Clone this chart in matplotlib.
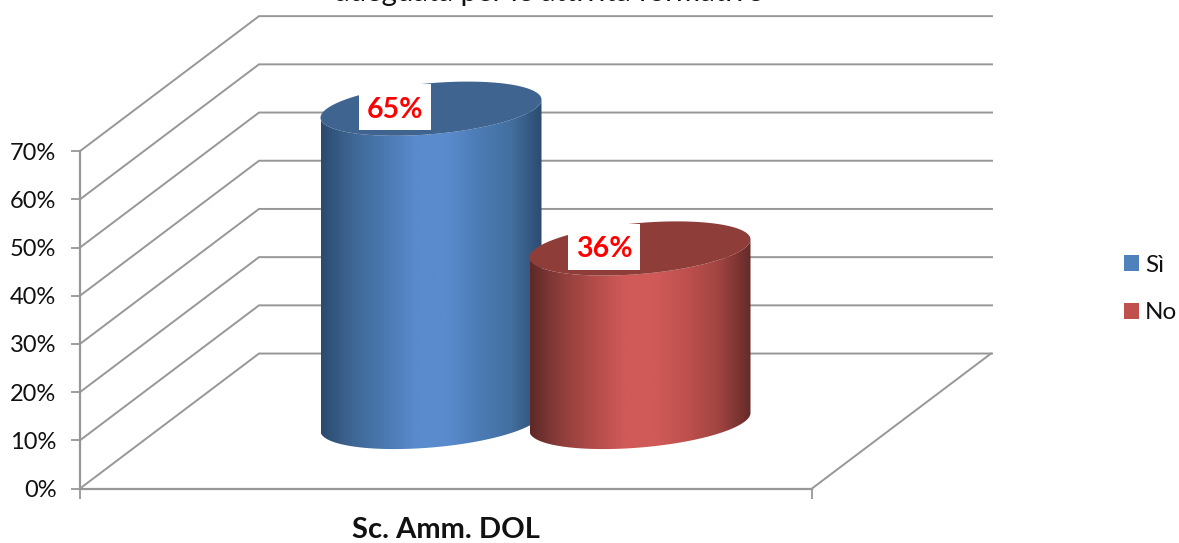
import numpy as np
import matplotlib
matplotlib.use("Agg")
import matplotlib.pyplot as plt
from matplotlib.colors import LinearSegmentedColormap
from matplotlib.patches import PathPatch, Patch, Polygon, Rectangle
from matplotlib.path import Path

plt.rcParams['font.family'] = ['Lato', 'DejaVu Sans']

# data
title = "adeguata per le attività formative"
category = "Sc. Amm. DOL"
series_names = ["Sì", "No"]
series_values = [65, 36]
y_ticks = [0, 10, 20, 30, 40, 50, 60, 70]
y_labels = ["0%", "10%", "20%", "30%", "40%", "50%", "60%", "70%"]

# look of each series
legend_colors = ["#4f81bd", "#c0504d"]
top_colors = ["#3f6490", "#8f3d39"]
body_colors = [
    ["#2b4a70", "#3f6794", "#4a78b0", "#5a8bcd", "#5a8bcd", "#4c7bb5", "#44709f", "#2c4b70"],
    ["#5e2927", "#8f3e3b", "#b24c49", "#d05a58", "#d05a58", "#bd504d", "#a04441", "#642b29"],
]

GRID = "#979797"
PX = 4.82             # pixels for one percent
DEPTH_X = 179         # shift of the back wall
DEPTH_Y = 28          # same, in percent
RADIUS_X = 110.5
RADIUS_Y = 5.3
TILT = 1.87
BASE = 13.8
centers = [431, 640]

fig = plt.figure(figsize=(11.79, 5.43), dpi=100, facecolor="white")
ax = fig.add_axes([0, 0, 1, 1])

# walls and floor
for v in y_ticks:
    ax.plot([80, 80 + DEPTH_X, 992], [v, v + DEPTH_Y, v + DEPTH_Y],
            color=GRID, lw=1.4, zorder=1, solid_joinstyle="miter")
ax.plot([812, 812 + DEPTH_X], [0, DEPTH_Y], color=GRID, lw=1.4, zorder=1)


def ellipse(cx, cy, t):
    return cx + RADIUS_X * np.cos(t), cy + RADIUS_Y * np.sin(t) + TILT * np.cos(t)


# cylinders, blue first so the red one sits on it
for i, value in enumerate(series_values):
    cx = centers[i]
    top = BASE + value
    xb, yb = ellipse(cx, BASE, np.linspace(np.pi, 2 * np.pi, 80))
    xt, yt = ellipse(cx, top, np.linspace(2 * np.pi, np.pi, 80))
    verts = np.vstack([np.column_stack([xb, yb]), np.column_stack([xt, yt])])
    body = PathPatch(Path(np.vstack([verts, verts[0]]), closed=True),
                     facecolor="none", edgecolor="none", zorder=2 + i)
    ax.add_patch(body)
    cmap = LinearSegmentedColormap.from_list("c", body_colors[i])
    im = ax.imshow(np.linspace(0, 1, 256).reshape(1, -1), cmap=cmap, aspect="auto",
                   extent=(cx - RADIUS_X, cx + RADIUS_X, BASE - 10, top + 10),
                   zorder=2 + i, interpolation="bilinear")
    im.set_clip_path(body)

    xe, ye = ellipse(cx, top, np.linspace(0, 2 * np.pi, 160))
    ax.add_patch(Polygon(np.column_stack([xe, ye]), closed=True,
                         facecolor=top_colors[i], edgecolor="none", zorder=2 + i))

    # data label on its white box
    ax.add_patch(Rectangle((cx - 72, top + 0.3 - 46 / PX / 2), 72, 46 / PX,
                           facecolor="white", edgecolor="none", zorder=5))
    ax.text(cx - 36, top - 0.2, f"{value}%", color="#ff0000", fontsize=20.5,
            fontweight="bold", ha="center", va="center", zorder=6)

ax.set_xlim(0, 1179)
ax.set_ylim(-54.5 / PX, 488.5 / PX)

# front axes
for side in ["top", "right"]:
    ax.spines[side].set_visible(False)
ax.spines["left"].set_position(("data", 80))
ax.spines["left"].set_bounds(0, 70)
ax.spines["bottom"].set_position(("data", 0))
ax.spines["bottom"].set_bounds(80, 812)
for side in ["left", "bottom"]:
    ax.spines[side].set_color(GRID)
    ax.spines[side].set_linewidth(1.6)
ax.set_yticks(y_ticks)
ax.set_yticklabels(y_labels)
ax.set_xticks([80, 812])
ax.set_xticklabels([])
ax.tick_params(axis="y", length=6.5, width=1.3, color=GRID, pad=10.5,
               labelsize=17, labelcolor="#111111")
ax.tick_params(axis="x", length=7, width=1.3, color=GRID)
ax.patch.set_alpha(0)

ax.text(446, -8.6, category, fontsize=21, fontweight="bold", color="#111111",
        ha="center", va="center")
ax.text(549, 488.5 / PX - 1.5 / PX, title, fontsize=21.2, color="#111111",
        ha="center", va="baseline")

handles = [Patch(facecolor=c, edgecolor="none", label=n)
           for c, n in zip(legend_colors, series_names)]
ax.legend(handles=handles, loc="center left", bbox_to_anchor=(1124 / 1179, 1 - 289 / 543),
          frameon=False, fontsize=17.5, handlelength=0.62, handleheight=0.62,
          handletextpad=0.25, labelspacing=1.1, borderpad=0, borderaxespad=0,
          labelcolor="#111111")

fig.savefig("out.png", dpi=100, facecolor="white")
